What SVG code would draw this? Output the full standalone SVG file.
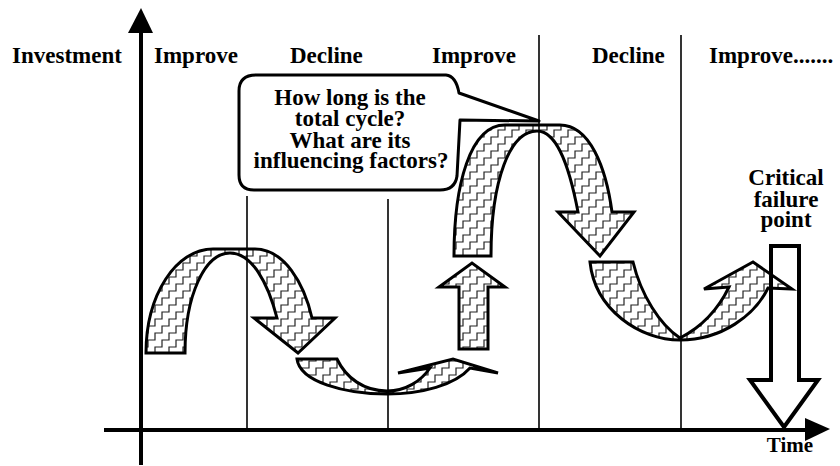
<svg xmlns="http://www.w3.org/2000/svg" width="840" height="466" viewBox="0 0 840 466">
<style>
.t{font-family:"Liberation Serif","Times New Roman",serif;font-weight:bold;font-size:23px;fill:#000}
.b{font-family:"Liberation Serif","Times New Roman",serif;font-weight:bold;font-size:23px;fill:#000;text-anchor:middle}
.arr{fill:url(#stairs);stroke:#000;stroke-width:3;stroke-linejoin:miter}
.div{stroke:#000;stroke-width:1.6;fill:none}
.ax{stroke:#000;stroke-width:4;fill:none}
</style>
<defs>
<pattern id="stairs" width="14" height="14" patternUnits="userSpaceOnUse">
<rect width="14" height="14" fill="#fff"/>
<path d="M-13 25H-6V18H1V11H8V4H15V-3H22M-27 25H-20V18H-13V11H-6V4H1V-3H8" fill="none" stroke="#222" stroke-width="1.2"/>
</pattern>
</defs>
<g id="arrows">
<g id="arrow1"><path class="arr" d="M146,353 C146,295 176,249 213,249 L255,249 C284,249 304,283 312,318 L335,318 L298,353 L254,318 L277,318 C268,283 252,253 230,253 C205,253 185,295 185,353 Z"/></g>
<g id="arrow2"><path class="arr" d="M297,359 L337,359 C346,378 364,391 387,391 C406,391 421,381 430,368 L398,373 L453,359 L498,373 L470,368 C455,385 422,394 387,394 C345,394 300,382 297,359 Z"/></g>
<g id="arrow3"><path class="arr" d="M459,349 V287 H439 L472,263 L505,287 H488 V349 Z"/></g>
<g id="arrow4"><path class="arr" d="M454,256 C454,185 470,125 505,125 L560,125 C590,125 606,168 612,212 L634,212 L600,256 L558,212 L578,212 C570,170 558,131 537,131 C510,131 491,180 491,256 Z"/></g>
<g id="arrow5"><path class="arr" d="M590,262 L633,262 C641,295 660,325 680,338 C700,328 718,310 729,287 L704,289 L753,262 L792,289 L768,288 C755,315 722,340 680,340 C640,340 595,310 590,262 Z"/></g>
</g>
<g id="dividers">
<line class="div" x1="247" y1="196" x2="247" y2="430"/>
<line class="div" x1="388" y1="199" x2="388" y2="430"/>
<line class="div" x1="539" y1="35" x2="539" y2="430"/>
<line class="div" x1="681" y1="35" x2="681" y2="430"/>
</g>
<g id="axes">
<line class="ax" x1="141" y1="30" x2="141" y2="465"/>
<polygon points="128,33 141,8 153,33" fill="#000"/>
<line class="ax" x1="104" y1="430" x2="808" y2="430"/>
<polygon points="805,418 830,429 805,441" fill="#000"/>
</g>
<g id="bubble">
<path d="M256,75 H446 Q456,76 459,93 L539,121 L460,120 L457,176 Q455,190 440,190 H254 Q239,190 239,175 V91 Q239,75 256,75 Z" fill="#fff" stroke="#000" stroke-width="3" stroke-linejoin="round"/>
<text class="b" y="105"><tspan x="350">How long is the</tspan><tspan x="350" dy="21">total cycle?</tspan><tspan x="350" dy="22">What are its</tspan><tspan x="351" dy="20">influencing factors?</tspan></text>
</g>
<g id="failure">
<path d="M771,246 H799 V380 H818 L784,427 L750,380 H771 Z" fill="none" stroke="#000" stroke-width="4" stroke-linejoin="miter"/>
<text class="b" y="185"><tspan x="786">Critical</tspan><tspan x="786" dy="22">failure</tspan><tspan x="786" dy="20">point</tspan></text>
</g>
<g id="labels">
<text class="t" x="12" y="63">Investment</text>
<text class="t" x="154" y="63">Improve</text>
<text class="t" x="290" y="63">Decline</text>
<text class="t" x="432" y="63">Improve</text>
<text class="t" x="592" y="63">Decline</text>
<text class="t" x="709" y="63">Improve.......</text>
<text class="b" x="790" y="452" style="font-size:21px">Time</text>
</g>
</svg>
